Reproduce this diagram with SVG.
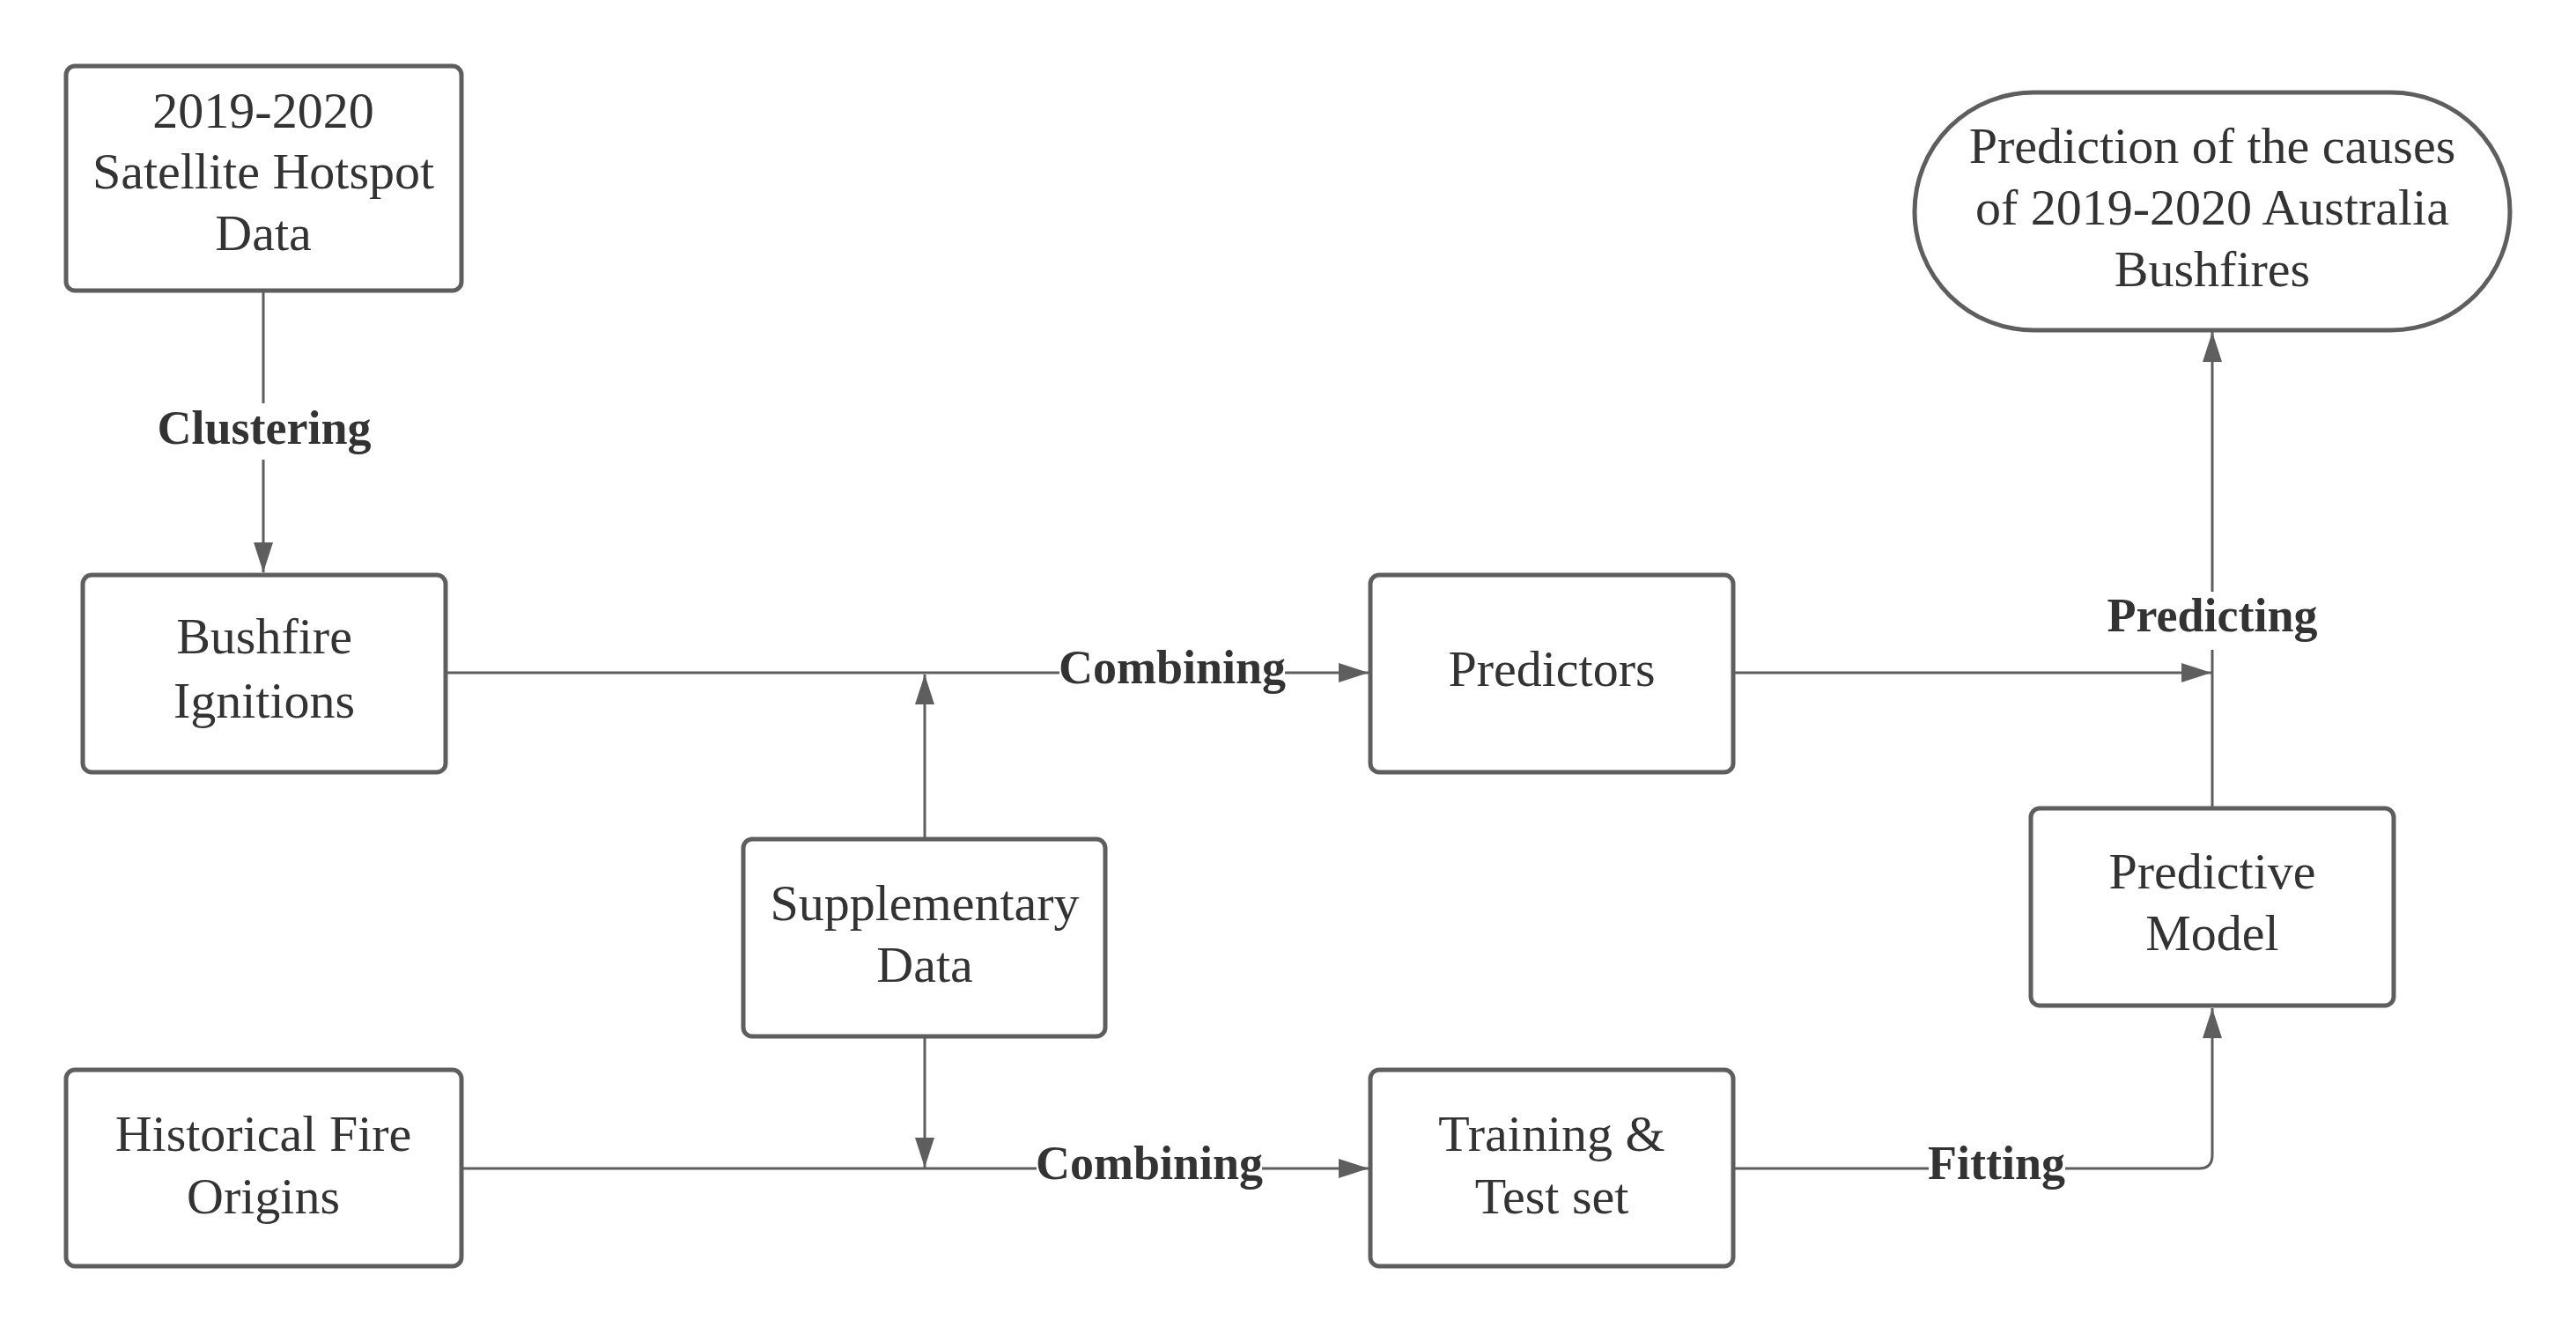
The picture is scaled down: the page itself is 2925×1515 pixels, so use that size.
<svg xmlns="http://www.w3.org/2000/svg" width="2925" height="1515" viewBox="0 0 2925 1515">
<style>
.box{fill:#fff;stroke:#5e5e5e;stroke-width:5}
.t{font-family:"Liberation Serif","Times New Roman",serif;font-size:58px;fill:#333;text-anchor:middle}
.lbl{font-family:"Liberation Serif","Times New Roman",serif;font-size:54px;font-weight:bold;fill:#333;text-anchor:middle}
.ln{fill:none;stroke:#5e5e5e;stroke-width:3}
.bg{fill:#fff}
</style>
<defs>
<marker id="ah" markerUnits="userSpaceOnUse" markerWidth="36" markerHeight="24" refX="34" refY="11" orient="auto">
<path d="M0,0 L34,11 L0,22 z" fill="#5e5e5e"/>
</marker>
</defs>
<rect width="2925" height="1515" fill="#fff"/>
<g id="connectors">
<path class="ln" d="M299 330 V650" marker-end="url(#ah)"/>
<path class="ln" d="M506 764 H1554" marker-end="url(#ah)"/>
<path class="ln" d="M1050 953 V766" marker-end="url(#ah)"/>
<path class="ln" d="M1050 1177 V1326" marker-end="url(#ah)"/>
<path class="ln" d="M524 1327 H1554" marker-end="url(#ah)"/>
<path class="ln" d="M1968 764 H2511" marker-end="url(#ah)"/>
<path class="ln" d="M2512 917 V377" marker-end="url(#ah)"/>
<path class="ln" d="M1968 1327 H2497 Q2512 1327 2512 1312 V1145" marker-end="url(#ah)"/>
<rect class="bg" x="176" y="458" width="248" height="64"/>
<text class="lbl" x="300" y="504">Clustering</text>
<rect class="bg" x="1203" y="737" width="256" height="58"/>
<text class="lbl" x="1331" y="776">Combining</text>
<rect class="bg" x="1177" y="1300" width="256" height="58"/>
<text class="lbl" x="1305" y="1339">Combining</text>
<rect class="bg" x="2190" y="1300" width="155" height="58"/>
<text class="lbl" x="2267" y="1339">Fitting</text>
<rect class="bg" x="2390" y="672" width="244" height="66"/>
<text class="lbl" x="2512" y="717">Predicting</text>
</g>
<g id="node-satellite">
<rect class="box" x="75" y="75" width="449" height="255" rx="10"/>
<text class="t" x="299" y="145">2019-2020</text>
<text class="t" x="299" y="214">Satellite Hotspot</text>
<text class="t" x="299" y="284">Data</text>
</g>
<g id="node-ignitions">
<rect class="box" x="94" y="653" width="412" height="224" rx="10"/>
<text class="t" x="300" y="742">Bushfire</text>
<text class="t" x="300" y="815">Ignitions</text>
</g>
<g id="node-predictors">
<rect class="box" x="1556" y="653" width="412" height="224" rx="10"/>
<text class="t" x="1762" y="779">Predictors</text>
</g>
<g id="node-supplementary">
<rect class="box" x="844" y="953" width="411" height="224" rx="10"/>
<text class="t" x="1050" y="1045">Supplementary</text>
<text class="t" x="1050" y="1115">Data</text>
</g>
<g id="node-historical">
<rect class="box" x="75" y="1215" width="449" height="223" rx="10"/>
<text class="t" x="299" y="1307">Historical Fire</text>
<text class="t" x="299" y="1378">Origins</text>
</g>
<g id="node-training">
<rect class="box" x="1556" y="1215" width="412" height="223" rx="10"/>
<text class="t" x="1762" y="1307">Training &amp;</text>
<text class="t" x="1762" y="1378">Test set</text>
</g>
<g id="node-model">
<rect class="box" x="2306" y="918" width="412" height="224" rx="10"/>
<text class="t" x="2512" y="1009">Predictive</text>
<text class="t" x="2512" y="1079">Model</text>
</g>
<g id="node-result">
<rect class="box" x="2174" y="105" width="676" height="270" rx="135"/>
<text class="t" x="2512" y="185">Prediction of the causes</text>
<text class="t" x="2512" y="255">of 2019-2020 Australia</text>
<text class="t" x="2512" y="325">Bushfires</text>
</g>
</svg>
